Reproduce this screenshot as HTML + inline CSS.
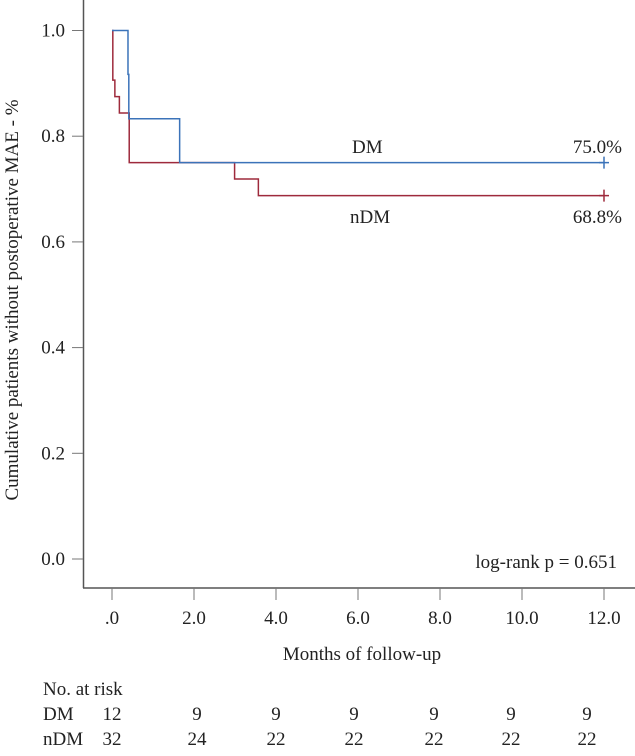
<!DOCTYPE html>
<html><head><meta charset="utf-8"><style>
body{margin:0;background:#fff;}
svg text{font-family:"Liberation Serif",serif;fill:#222;}
</style></head><body>
<svg width="635" height="751" viewBox="0 0 635 751">
<g id="axes"></g>
<g id="curves"></g>
<text x="18" y="300" font-size="19" text-anchor="middle" transform="rotate(-90 18 300)">Cumulative patients without postoperative MAE - %</text>
<text x="362" y="660" font-size="19" text-anchor="middle">Months of follow-up</text>
<text x="617" y="568" font-size="19" text-anchor="end">log-rank p = 0.651</text>
<text x="352" y="153" font-size="19">DM</text>
<text x="622" y="153" font-size="19" text-anchor="end">75.0%</text>
<text x="350" y="223" font-size="19">nDM</text>
<text x="622" y="223" font-size="19" text-anchor="end">68.8%</text>
<text x="43" y="695" font-size="19">No. at risk</text>
<text x="43" y="720" font-size="19">DM</text>
<text x="43" y="745" font-size="19">nDM</text>
<g id="risk"></g>
</svg>
<script>
const xTicks=[0,2,4,6,8,10,12];
const xTickLabels=[".0","2.0","4.0","6.0","8.0","10.0","12.0"];
const yTicks=[0,0.2,0.4,0.6,0.8,1.0];
const yTickLabels=["0.0","0.2","0.4","0.6","0.8","1.0"];
const dmTimes=[0,0.39,0.41,1.65,12];
const dmSurv=[1.0,0.917,0.833,0.75,0.75];
const ndmTimes=[0,0.02,0.07,0.18,0.42,2.99,3.57,12];
const ndmSurv=[1.0,0.906,0.875,0.844,0.75,0.719,0.6875,0.6875];
const riskDM=[12,9,9,9,9,9,9];
const riskNDM=[32,24,22,22,22,22,22];
const riskCols=[112,197,276,354,434,511,587];
const NS="http://www.w3.org/2000/svg";
const X=t=>112+t*41;
const Y=v=>559-v*528.5;
function mk(tag,attrs,parent){const e=document.createElementNS(NS,tag);for(const k in attrs)e.setAttribute(k,attrs[k]);parent.appendChild(e);return e;}
const ax=document.getElementById('axes');
let l=mk('line',{x1:83.5,y1:0,x2:83.5,y2:588,stroke:'#555','stroke-width':1.5},ax);


l=mk('line',{x1:83,y1:588,x2:635,y2:588,stroke:'#555','stroke-width':1.5},ax);


xTicks.forEach((t,i)=>{
 const tk=mk('line',{x1:X(t),y1:588,x2:X(t),y2:600,stroke:'#777','stroke-width':1},ax);
 
 
 const tx=mk('text',{x:X(t),y:624,'font-size':19,'text-anchor':'middle'},ax);
 tx.textContent=xTickLabels[i];
 
 
});
yTicks.forEach((v,i)=>{
 const tk=mk('line',{x1:72,y1:Y(v),x2:83,y2:Y(v),stroke:'#777','stroke-width':1},ax);
 
 
 const tx=mk('text',{x:65,y:Y(v)+6,'font-size':19,'text-anchor':'end'},ax);
 tx.textContent=yTickLabels[i];
 
 
});
function step(times,surv,color,name){
 const g=document.getElementById('curves');
 let d='M'+X(times[0])+','+Y(surv[0]);
 for(let i=1;i<times.length;i++){d+=' H'+X(times[i])+' V'+Y(surv[i]);}
 const p=mk('path',{d:d,fill:'none',stroke:color,'stroke-width':1.5},g);
 
 
 const n=times.length-1,cx=X(times[n]),cy=Y(surv[n]);
 const c=mk('path',{d:`M${cx-5},${cy} H${cx+5} M${cx},${cy-6} V${cy+6}`,stroke:color,'stroke-width':1.5},g);
 
 
}
step(ndmTimes,ndmSurv,'#9e2a3c','ndm');
step(dmTimes,dmSurv,'#3b73b9','dm');
const rk=document.getElementById('risk');
riskCols.forEach((x,i)=>{
 let t=mk('text',{x:x,y:720,'font-size':19,'text-anchor':'middle'},rk);
 t.textContent=riskDM[i];
 
 
 t=mk('text',{x:x,y:745,'font-size':19,'text-anchor':'middle'},rk);
 t.textContent=riskNDM[i];
 
 
});
</script>
</body></html>
